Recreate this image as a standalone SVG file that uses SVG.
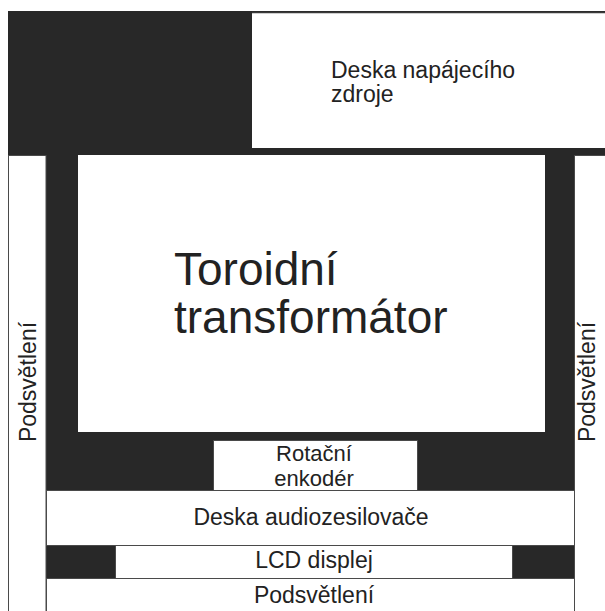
<svg xmlns="http://www.w3.org/2000/svg" width="605" height="611" viewBox="0 0 605 611">
  <style>
    .dark { fill: #282828; }
    .box { fill: #ffffff; stroke: #4a4a4a; stroke-width: 1; }
    .lbl { font-family: "Liberation Sans", Arial, sans-serif; font-size: 23px; fill: #222222; }
    .sm { font-size: 22px; }
    .big { font-family: "Liberation Sans", Arial, sans-serif; font-size: 46px; fill: #222222; }
    .mid { text-anchor: middle; }
  </style>
  <rect x="0" y="0" width="605" height="611" fill="#ffffff"/>
  <g id="chassis">
    <rect class="dark" x="8" y="11" width="597" height="144"/>
    <rect class="dark" x="46" y="155" width="528" height="424"/>
  </g>
  <g id="connectors"></g>
  <g id="deska-napajeciho-zdroje">
    <rect x="252" y="12" width="360" height="136" fill="#ffffff"/>
    <line x1="252" y1="12.5" x2="605" y2="12.5" stroke="#3a3a3a" stroke-width="1.5"/>
    <text class="lbl" x="331" y="78">Deska napájecího</text>
    <text class="lbl" x="331" y="102">zdroje</text>
  </g>
  <g id="toroidni-transformator">
    <rect x="78" y="155" width="467" height="277" fill="#ffffff"/>
    <text class="big" x="174" y="285">Toroidní</text>
    <text class="big" x="174" y="333">transformátor</text>
  </g>
  <g id="rotacni-enkoder">
    <rect class="box" x="213.5" y="440.5" width="204" height="50"/>
    <text class="lbl sm mid" x="314" y="461">Rotační</text>
    <text class="lbl sm mid" x="314" y="486">enkodér</text>
  </g>
  <g id="deska-audiozesilovace">
    <rect class="box" x="46.5" y="490.5" width="528" height="55"/>
    <text class="lbl mid" x="311" y="525">Deska audiozesilovače</text>
  </g>
  <g id="lcd-displej">
    <rect class="box" x="115.5" y="545.5" width="397" height="33"/>
    <text class="lbl mid" x="314" y="568">LCD displej</text>
  </g>
  <g id="podsvetleni-dole">
    <rect class="box" x="46.5" y="578.5" width="528" height="40"/>
    <text class="lbl mid" x="314" y="603">Podsvětlení</text>
  </g>
  <g id="podsvetleni-vlevo">
    <rect class="box" x="8.5" y="155.5" width="37.5" height="460"/>
    <text class="lbl mid" transform="translate(36,382) rotate(-90)">Podsvětlení</text>
  </g>
  <g id="podsvetleni-vpravo">
    <rect class="box" x="574.5" y="155.5" width="40" height="460"/>
    <text class="lbl mid" transform="translate(595,382) rotate(-90)">Podsvětlení</text>
  </g>
</svg>
